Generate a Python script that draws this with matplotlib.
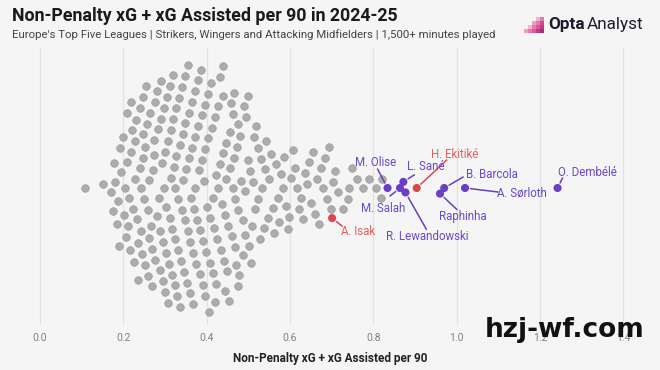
import numpy as np
import matplotlib
matplotlib.use("Agg")
import matplotlib.pyplot as plt

# npxG + xA per 90, grey field (roughly left to right)
others = [
    0.108, 0.152,
    0.171, 0.175, 0.178, 0.181, 0.184, 0.186, 0.189,
    0.193, 0.195, 0.198, 0.201, 0.203, 0.206, 0.208, 0.209, 0.211, 0.214,
    0.217, 0.218, 0.219, 0.221, 0.223, 0.225, 0.227, 0.228, 0.230, 0.232, 0.234,
    0.236, 0.239,
    0.241, 0.242, 0.243, 0.245, 0.246, 0.247, 0.248, 0.250, 0.252, 0.253, 0.255,
    0.256, 0.258, 0.259, 0.261, 0.262,
    0.265, 0.266, 0.268, 0.269, 0.271, 0.273, 0.274, 0.275, 0.277, 0.280, 0.281,
    0.283, 0.286, 0.287,
    0.289, 0.290, 0.291, 0.292, 0.294, 0.295, 0.297, 0.298, 0.300, 0.301, 0.302,
    0.303, 0.304, 0.306, 0.308, 0.310, 0.311,
    0.313, 0.314, 0.315, 0.316, 0.317, 0.319, 0.320, 0.321, 0.323, 0.324, 0.325,
    0.326, 0.327, 0.329, 0.331, 0.332, 0.333, 0.335,
    0.337, 0.338, 0.340, 0.341, 0.343, 0.344, 0.345, 0.347, 0.348, 0.349, 0.351,
    0.352, 0.354, 0.355, 0.357, 0.358, 0.359,
    0.361, 0.362, 0.364, 0.365, 0.367, 0.368, 0.369, 0.371, 0.372, 0.373, 0.375,
    0.376, 0.378, 0.379, 0.381, 0.383,
    0.385, 0.386, 0.388, 0.389, 0.391, 0.392, 0.393, 0.395, 0.396, 0.397, 0.399,
    0.400, 0.402, 0.403, 0.405, 0.407,
    0.409, 0.411, 0.412, 0.414, 0.416, 0.418, 0.419, 0.421, 0.422, 0.423, 0.425,
    0.427, 0.428, 0.431,
    0.433, 0.434, 0.436, 0.438, 0.439, 0.440, 0.442, 0.443, 0.445, 0.446, 0.447,
    0.449, 0.451, 0.453, 0.455,
    0.457, 0.459, 0.460, 0.462, 0.463, 0.465, 0.466, 0.468, 0.469, 0.471, 0.472,
    0.474, 0.475, 0.476, 0.478,
    0.481, 0.483, 0.486, 0.487, 0.489, 0.492, 0.493, 0.495, 0.498, 0.499, 0.501, 0.503,
    0.506, 0.509, 0.511, 0.513, 0.516, 0.519, 0.522, 0.524, 0.527,
    0.530, 0.533, 0.537, 0.541, 0.543, 0.547, 0.550,
    0.554, 0.559, 0.562, 0.566, 0.571, 0.574,
    0.578, 0.583, 0.586, 0.590, 0.595, 0.598,
    0.603, 0.608, 0.612, 0.616, 0.621,
    0.627, 0.632, 0.636, 0.641, 0.645,
    0.651, 0.656, 0.660, 0.665, 0.669,
    0.675, 0.680, 0.684, 0.689, 0.693,
    0.698, 0.703, 0.708, 0.715,
    0.726, 0.738, 0.742,
    0.749, 0.760,
    0.775, 0.790,
    0.806,
    0.818, 0.821,
]

# highlighted players (this order is also the order they are dropped into the swarm)
players = ["A. Isak", "M. Olise", "M. Salah", "R. Lewandowski", "L. Sané",
           "H. Ekitiké", "B. Barcola", "Raphinha", "A. Sørloth", "O. Dembélé"]
player_vals = [0.701, 0.834, 0.864, 0.877, 0.872, 0.904, 0.970, 0.960, 1.020, 1.242]
player_team = ["red", "purple", "purple", "purple", "purple",
               "red", "purple", "purple", "purple", "purple"]
# label centre offsets in pixels (dx, dy) from the dot, and leader line end offsets
label_off = {
    "A. Isak": (26, -13), "M. Olise": (-12, 26), "L. Sané": (22, 15),
    "H. Ekitiké": (38, 34), "R. Lewandowski": (22, -44), "M. Salah": (-17, -21),
    "B. Barcola": (48, 14), "Raphinha": (23, -23), "A. Sørloth": (57, -5),
    "O. Dembélé": (30, 15),
}
line_end = {
    "A. Isak": (10, -8), "M. Olise": (-10, 19), "L. Sané": (11, 7),
    "H. Ekitiké": (30, 28), "R. Lewandowski": (21, -37), "M. Salah": (-10, -8),
    "B. Barcola": (19, 11), "Raphinha": (17, -16), "A. Sørloth": (33, -4),
    "O. Dembélé": (5, 10),
}

ticks = [0.0, 0.2, 0.4, 0.6, 0.8, 1.0, 1.2, 1.4]

BG = "#f5f5f5"
GREY = "#acacac"
PURPLE = "#6a3fc4"
RED = "#d9474c"
TXT_PURPLE = "#6b48c8"
TXT_RED = "#e0625c"

plt.rcParams["font.family"] = ["Roboto", "DejaVu Sans"]

W, H = 660, 370
fig = plt.figure(figsize=(W / 100, H / 100), dpi=100, facecolor=BG)
top_px, bot_px, mid_px = 48, 325, 188
ax = fig.add_axes([0, (H - bot_px) / H, 1, (bot_px - top_px) / H])
ax.set_facecolor(BG)
ax.set_xlim(-40 / 416.7, 620 / 416.7)
ax.set_ylim(-(bot_px - mid_px), mid_px - top_px)
for s in ax.spines.values():
    s.set_visible(False)
ax.set_yticks([])
ax.set_xticks(ticks)
ax.set_xticklabels([f"{t:.1f}" for t in ticks])
ax.tick_params(axis="x", length=0, pad=6, labelsize=7.5, labelcolor="#808080")
for t in ticks:
    ax.axvline(t, color="#e2e2e2", lw=0.9, zorder=0)
ax.set_xlabel("Non-Penalty xG + xG Assisted per 90", fontsize=8.5,
              fontweight="bold", color="#222222", labelpad=6)


def swarm(xs, radii, order, placed):
    """greedy swarm in pixel space; points go in the given order, ties go downwards"""
    out = {}
    for i in order:
        x, r = xs[i], radii[i]
        near = [(px, py, r + pr) for px, py, pr in placed if abs(px - x) < r + pr]
        cands = [0.0]
        for px, py, d in near:
            dy = np.sqrt(d * d - (px - x) ** 2)
            cands += [py + dy, py - dy]
        cands.sort(key=lambda c: (abs(c), c))
        y = cands[0]
        for c in cands:
            if all((px - x) ** 2 + (py - c) ** 2 >= d * d - 1e-6 for px, py, d in near):
                y = c
                break
        out[i] = y
        placed.append((x, y, r))
    return out


n_o = len(others)
all_vals = np.array(others + player_vals)
xs_px = ax.transData.transform(np.column_stack([all_vals, np.zeros(len(all_vals))]))[:, 0]
radii = [5.6] * n_o + [3.5] * len(player_vals)
ys = np.zeros(len(all_vals))  # pixels == y data units here

# grey dots in a scrambled (golden-ratio) order so the swarm isn't a rigid lattice,
# then Isak, who sits on the edge of the grey cloud
grey_order = list(np.argsort((np.arange(n_o) * 0.6180339887) % 1.0))
first = swarm(xs_px, radii, grey_order + [n_o], [])
for i, y in first.items():
    ys[i] = y
if ys[n_o] > 0:  # keep Isak on the lower side as in the original
    ys = -ys
placed = [(xs_px[i], ys[i], radii[i]) for i in first]
rest = swarm(xs_px, radii, list(range(n_o + 1, len(all_vals))), placed)
for i, y in rest.items():
    ys[i] = y

ax.scatter(all_vals[:n_o], ys[:n_o], s=30, color=GREY, edgecolor="#9c9c9c",
           linewidth=0.5, zorder=2)
cols = [PURPLE if t == "purple" else RED for t in player_team]
ax.scatter(all_vals[n_o:], ys[n_o:], s=34, color=cols, edgecolor="none", zorder=4)

for name, v, y, team in zip(players, player_vals, ys[n_o:], player_team):
    tc = TXT_PURPLE if team == "purple" else TXT_RED
    lc = PURPLE if team == "purple" else RED
    dx, dy = label_off[name]
    ex, ey = line_end[name]
    ax.annotate("", xy=(v, y), xytext=(ex, ey), textcoords="offset pixels",
                arrowprops=dict(arrowstyle="-", color=lc, lw=1.1, shrinkA=0, shrinkB=4),
                zorder=3)
    ax.annotate(name, xy=(v, y), xytext=(dx, dy), textcoords="offset pixels",
                ha="center", va="center", fontsize=8.3, color=tc, zorder=5)

# titles
fig.text(12 / W, 1 - 16 / H, "Non-Penalty xG + xG Assisted per 90 in 2024-25",
         fontsize=12.8, fontweight="bold", color="#1a1a1a", va="center")
fig.text(12 / W, 1 - 35 / H,
         "Europe's Top Five Leagues | Strikers, Wingers and Attacking Midfielders | 1,500+ minutes played",
         fontsize=8.2, color="#444444", va="center")

# Opta Analyst logo
lax = fig.add_axes([0, 0, 1, 1], facecolor="none")
lax.set_xlim(0, W)
lax.set_ylim(H, 0)
lax.axis("off")
logo_x = [526, 530, 530, 534, 534, 534, 538, 538, 538, 538, 542, 542, 542, 542]
logo_y = [31, 31, 27, 31, 27, 23, 31, 27, 23, 19, 31, 27, 23, 19]
logo_c = ["#e9a3c4", "#e27bb0", "#f1b7d0", "#d85a9a", "#e27bb0", "#eaa0c4",
          "#c23c84", "#d85a9a", "#e27bb0", "#f0b4d0", "#a8306f", "#c23c84",
          "#d14a8e", "#e27bb0"]
lax.scatter(logo_x, logo_y, s=9, marker="s", color=logo_c, linewidth=0)
t_opta = lax.text(548, 24, "Opta", fontsize=12.3, fontweight="bold",
                  color="#1c1c2c", va="center")
renderer = fig.canvas.get_renderer()
bb = t_opta.get_window_extent(renderer)
lax.text(bb.x1 + 2, H - 24, "Analyst", fontsize=12.3, color="#1c1c2c", va="center",
         transform=None)

# watermark
lax.text(565, 330, "hzj-wf.com", fontsize=19, fontweight="bold", color="#111111",
         ha="center", va="center", family="DejaVu Sans")

fig.savefig("out.png", dpi=100, facecolor=BG)
